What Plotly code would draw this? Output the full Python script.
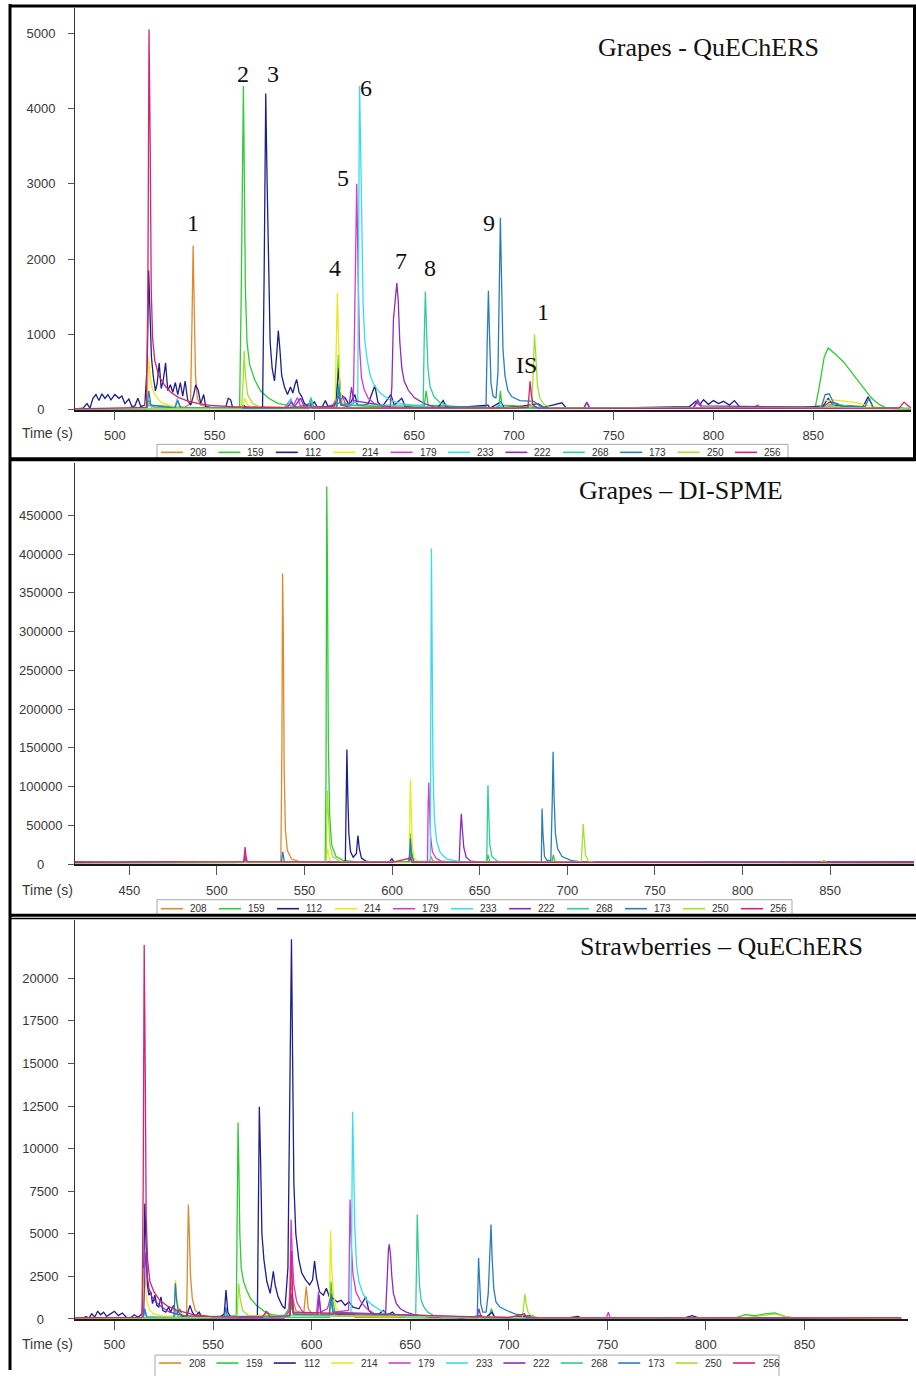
import plotly.graph_objects as go

# ---------------------------------------------------------------------------
# Selected-ion chromatograms (m/z traces), intensity vs retention time (s)
# ---------------------------------------------------------------------------
ions = ["208", "159", "112", "214", "179", "233", "222", "268", "173", "250", "256"]
ion_colors = ["#DC8A2C", "#2ECB35", "#1E1E8C", "#E9E91C", "#D23BD2", "#3ADBEA",
              "#8A2DBA", "#30CC96", "#2A7DBA", "#A5DF2C", "#D2246F"]

# ---- Grapes - QuEChERS : (time s, counts) ---------------------------------
gq_208 = [(480, 10), (515, 15), (517.5, 60), (520, 30), (535, 30), (537.9, 80), (538.6, 1100),
          (539.2, 2180), (539.8, 1300), (540.4, 450), (541.3, 150), (543, 60), (548, 30),
          (565, 40), (590, 30), (598, 60), (600, 20), (640, 20), (700, 25), (708, 60), (710, 20),
          (760, 15), (858, 40), (870, 20), (899, 10)]
gq_159 = [(480, 10), (515, 15), (517, 120), (518, 60), (540, 20), (562.5, 30), (563.3, 1500),
          (564, 3800), (564.4, 4300), (564.9, 3000), (565.4, 1600), (566.2, 900), (567.5, 600),
          (570, 400), (573, 250), (577, 150), (582, 80), (590, 40), (597, 50), (598.3, 160),
          (599.5, 40), (610, 40), (611.2, 200), (612, 730), (612.8, 250), (614, 60), (640, 30),
          (655, 40), (656, 250), (657, 60), (690, 20), (692.5, 40), (693.2, 250), (694, 60),
          (720, 20), (780, 15), (840, 20), (851, 30), (853, 300), (855.5, 700), (857.5, 820),
          (859, 790), (861, 740), (863, 690), (865, 640), (867, 570), (869, 500), (871, 430),
          (873, 360), (875, 290), (877, 220), (879, 160), (881, 110), (883, 70), (886, 30),
          (899, 15)]
gq_112 = [(480, 10), (484, 20), (486, 80), (487.5, 20), (489, 150), (490.5, 200), (492, 120),
          (493.5, 210), (495, 150), (496.5, 200), (498, 130), (500, 200), (502, 150), (503.5, 180),
          (505, 80), (507, 140), (508.5, 40), (510, 50), (511.5, 150), (513, 40), (515, 60),
          (516.2, 600), (516.9, 1850), (517.6, 1300), (518.3, 700), (519.2, 450), (520.3, 250),
          (521.2, 350), (522.2, 620), (523.2, 280), (524.3, 400), (525.4, 620), (526.5, 250),
          (527.8, 330), (529, 230), (530.3, 360), (531.5, 200), (532.8, 360), (534, 180),
          (535.2, 380), (536.5, 120), (538, 60), (539.5, 200), (540.5, 330), (541.8, 250),
          (543, 80), (544.5, 200), (545.5, 40), (550, 20), (555.5, 30), (556.8, 150), (558, 130),
          (559, 30), (563, 20), (564.5, 60), (566, 20), (574, 30), (574.8, 1800), (575.6, 4200),
          (576.3, 3000), (577, 1700), (577.8, 900), (578.8, 550), (580, 380), (581, 700),
          (581.9, 1050), (582.7, 800), (583.6, 450), (585, 300), (586.5, 200), (588, 300),
          (589.2, 220), (590.2, 330), (591.1, 400), (592.3, 230), (593.5, 180), (595, 80),
          (597, 40), (600, 100), (601.5, 30), (604, 40), (605.5, 120), (607, 30), (609.5, 60),
          (611, 150), (612.2, 550), (613, 200), (615.5, 150), (617.5, 60), (620.3, 200),
          (621.5, 60), (625, 60), (627, 80), (630.3, 320), (631.8, 100), (634, 40), (638.3, 200),
          (640, 60), (643.8, 150), (645.5, 40), (652, 20), (662, 30), (664.5, 120), (666, 40),
          (672, 30), (687, 60), (688, 20), (693.3, 100), (695, 30), (703, 40), (712, 80),
          (715, 30), (724, 90), (726, 30), (760, 25), (788, 40), (791, 110), (793, 60),
          (795, 130), (797.5, 70), (800, 120), (802.5, 80), (805, 110), (808, 60), (810.5, 120),
          (813, 40), (830, 30), (845, 30), (855, 50), (857.5, 150), (860, 60), (875, 40),
          (877.5, 170), (880, 30), (899, 10)]
gq_214 = [(480, 5), (515, 10), (516.3, 200), (516.9, 700), (517.6, 450), (518.5, 300), (520, 200),
          (523, 100), (528, 50), (535, 20), (564, 20), (565, 150), (566.5, 60), (570, 20),
          (610.3, 30), (610.9, 700), (611.5, 1550), (612.1, 900), (612.8, 300), (614, 100),
          (617, 30), (650, 15), (853, 20), (856, 120), (860, 130), (866, 110), (872, 90),
          (878, 50), (885, 20), (899, 10)]
gq_179 = [(480, 10), (585, 15), (587.8, 130), (589.3, 50), (591.5, 160), (593, 50), (605, 30),
          (612.5, 90), (614.3, 170), (615.8, 50), (619.5, 80), (620.4, 1400), (621.2, 3000),
          (621.9, 1800), (622.6, 850), (623.6, 420), (625, 260), (627, 150), (630, 80), (635, 40),
          (660, 15), (735, 20), (736.5, 90), (738, 20), (790, 20), (792, 100), (794, 30),
          (820, 20), (822, 60), (824, 20), (899, 10)]
gq_233 = [(480, 5), (516, 10), (517.3, 100), (518.5, 20), (530, 20), (531.3, 150), (532.5, 30),
          (586, 20), (588.3, 150), (589.5, 30), (597, 20), (598.3, 150), (599.5, 30), (611, 30),
          (612.2, 280), (613.3, 60), (621.7, 100), (622.2, 2500), (622.6, 4300), (623.1, 3600),
          (623.7, 2400), (624.4, 1400), (625.3, 900), (626.5, 650), (628, 450), (630, 320),
          (633, 220), (637, 140), (642, 90), (650, 50), (660, 25), (692, 20), (693.2, 100),
          (694.5, 20), (707, 20), (708.2, 60), (709.5, 10), (856, 20), (858, 70), (862, 20),
          (899, 10)]
gq_222 = [(480, 10), (586, 20), (588.5, 100), (590, 40), (593, 150), (594.5, 60), (598, 80),
          (600, 30), (610, 50), (612, 180), (613.5, 60), (617.5, 80), (618.6, 300), (619.6, 120),
          (638, 40), (638.8, 300), (639.6, 1200), (640.5, 1520), (641.3, 1680), (642, 1450),
          (642.8, 900), (643.8, 550), (645, 380), (647, 260), (650, 160), (655, 80), (660, 35),
          (670, 20), (735, 20), (736.5, 100), (738, 20), (790, 30), (792, 130), (794, 50),
          (855, 30), (858, 100), (862, 80), (866, 30), (899, 10)]
gq_268 = [(480, 5), (597, 10), (598.2, 150), (599.3, 20), (611, 20), (612.2, 350), (613.2, 60),
          (654.5, 60), (655, 900), (655.6, 1570), (656.2, 1050), (656.9, 550), (658, 300),
          (660, 170), (663, 90), (668, 40), (690, 15), (692.6, 60), (694, 15), (855, 20),
          (860, 80), (866, 60), (872, 30), (899, 10)]
gq_173 = [(480, 5), (516, 10), (517, 250), (518, 60), (530, 20), (531.5, 120), (533, 20),
          (611.2, 30), (612.2, 300), (613.3, 60), (620, 20), (686, 40), (686.6, 900),
          (687.2, 1580), (687.8, 950), (688.5, 350), (689.5, 180), (691, 150), (692, 500),
          (692.6, 1700), (693.2, 2550), (693.8, 1700), (694.5, 800), (695.5, 450), (697, 250),
          (699, 170), (703, 120), (710, 110), (713, 50), (716, 30), (760, 15), (854, 30),
          (856, 200), (858, 210), (860, 100), (864, 40), (876, 40), (878, 150), (880, 30),
          (899, 10)]
gq_250 = [(480, 5), (563.5, 20), (564.3, 400), (564.8, 780), (565.4, 450), (566.5, 200),
          (569, 80), (573, 30), (690, 10), (708.8, 40), (709.6, 450), (710.3, 1000), (711, 700),
          (711.8, 320), (713, 150), (715, 70), (719, 20), (855, 20), (858, 60), (864, 30),
          (899, 10)]
gq_256 = [(480, 10), (515.8, 30), (516.5, 1500), (517.1, 5050), (517.7, 3500), (518.2, 1600),
          (518.9, 950), (520, 650), (522, 450), (525, 320), (528, 230), (532, 160), (537, 110),
          (542, 80), (548, 55), (560, 35), (580, 25), (620, 20), (700, 20), (707, 30),
          (707.6, 200), (708.1, 380), (708.7, 200), (709.6, 60), (712, 20), (760, 15), (893, 20),
          (895.5, 100), (898, 40), (899, 30)]

# ---- Grapes - DI-SPME ------------------------------------------------------
gs_208 = [(419, 2500), (470, 3000), (500, 2500), (536.5, 3000), (537.1, 150000), (537.5, 375000),
          (537.9, 300000), (538.4, 120000), (539.1, 45000), (540.2, 18000), (542.5, 7000),
          (547, 3500), (560, 2500), (621.5, 3000), (622.3, 10000), (623.5, 3000), (700, 2500),
          (898, 2500)]
gs_159 = [(419, 2000), (561.8, 2500), (562.3, 120000), (562.7, 487000), (563.1, 380000),
          (563.6, 160000), (564.3, 65000), (565.5, 25000), (568, 10000), (572, 5000), (580, 3000),
          (609.8, 3000), (610.4, 40000), (611, 18000), (612.5, 4000), (654, 3000), (654.7, 12000),
          (655.8, 3000), (691.3, 3000), (692, 12000), (693, 3000), (898, 2000)]
gs_112 = [(419, 2500), (515.5, 2500), (516.1, 8000), (516.8, 2500), (573.3, 3000), (573.8, 90000),
          (574.2, 148000), (574.7, 90000), (575.3, 40000), (576.3, 16000), (577.8, 9000),
          (579.6, 14000), (580.5, 37000), (581.3, 20000), (582.5, 8000), (585, 4000), (590, 2500),
          (598.5, 3000), (599.9, 7000), (601.3, 2500), (898, 2500)]
gs_214 = [(419, 2000), (562.2, 2500), (563.2, 20000), (564.5, 5000), (566, 2500), (609.8, 3000),
          (610.2, 80000), (610.5, 110000), (610.9, 70000), (611.5, 25000), (612.5, 8000),
          (615, 3000), (898, 2000)]
gs_179 = [(419, 2500), (515.3, 2500), (516, 12000), (516.7, 2500), (609.8, 2500), (610.5, 10000),
          (611.3, 2500), (620.2, 3000), (620.6, 80000), (620.95, 105000), (621.4, 70000),
          (622, 35000), (623, 16000), (625, 8000), (628, 4000), (635, 2500), (898, 2500)]
gs_233 = [(419, 2000), (621.8, 3000), (622.1, 200000), (622.45, 407000), (622.85, 280000),
          (623.3, 130000), (624.1, 60000), (625.4, 30000), (627.5, 15000), (631, 7000),
          (637, 4000), (645, 2500), (898, 2000)]
gs_222 = [(419, 3000), (440, 2500), (470, 3500), (500, 2500), (609.5, 3000), (610.4, 15000),
          (611.2, 3000), (638.3, 3000), (638.9, 40000), (639.5, 65000), (640.1, 45000),
          (640.9, 22000), (642.3, 9000), (645, 4000), (650, 3000), (700, 3000), (750, 3500),
          (800, 3000), (898, 3000)]
gs_268 = [(419, 2000), (609.8, 2500), (610.5, 20000), (611.3, 2500), (654, 3000), (654.35, 60000),
          (654.7, 102000), (655.1, 70000), (655.8, 25000), (657, 10000), (660, 4000), (665, 2500),
          (898, 2000)]
gs_173 = [(419, 2000), (536.8, 2500), (537.6, 16000), (538.5, 2500), (609.8, 2500), (610.4, 33000),
          (611, 12000), (612.5, 3000), (685.2, 3000), (685.6, 72000), (686.1, 40000), (687, 10000),
          (688.5, 5000), (690.6, 5000), (691.4, 80000), (691.9, 145000), (692.4, 90000),
          (693.2, 40000), (694.5, 20000), (697, 10000), (702, 5000), (708, 3000), (898, 2000)]
gs_250 = [(419, 2000), (562.4, 2500), (563, 95000), (563.6, 60000), (564.5, 25000), (566, 10000),
          (570, 4000), (575, 2500), (708, 3000), (708.6, 30000), (709.1, 52000), (709.6, 35000),
          (710.4, 12000), (712, 4000), (716, 2500), (845, 2500), (846.5, 5000), (848, 2500),
          (898, 2000)]
gs_256 = [(419, 2500), (515.3, 3000), (515.8, 15000), (516.1, 22000), (516.5, 12000),
          (517.3, 3000), (600, 2500), (610.5, 8000), (611.5, 2500), (898, 2500)]

# ---- Strawberries - QuEChERS ----------------------------------------------
sq_208 = [(480, 50), (530, 80), (536.6, 200), (537.1, 4000), (537.5, 6720), (538, 5000),
          (538.6, 2500), (539.5, 1200), (541, 500), (544, 200), (550, 100), (575, 100),
          (577.5, 400), (580, 150), (588, 200), (589.3, 2200), (590.3, 1300), (592, 500),
          (596, 300), (597.3, 1900), (598.3, 600), (601, 200), (619, 150), (620.5, 400),
          (622, 100), (700, 60), (708, 150), (710, 50), (899, 50)]
sq_159 = [(480, 30), (530, 50), (531.2, 500), (532.5, 80), (561.8, 200), (562.3, 6000),
          (562.7, 11530), (563.1, 9000), (563.6, 5000), (564.3, 3000), (565.5, 2200), (567, 1700),
          (569, 1200), (572, 800), (576, 450), (580, 250), (586, 150), (589.5, 800), (591, 200),
          (609, 200), (609.8, 2200), (610.6, 1200), (612, 300), (615, 150), (650, 100), (690, 80),
          (691.2, 600), (692.5, 100), (700, 60), (815, 60), (820, 250), (825, 200), (830, 300),
          (835, 350), (840, 150), (845, 60), (899, 40)]
sq_112 = [(480, 20), (484, 30), (485.5, 150), (487, 50), (488.5, 300), (490, 120), (491.5, 450),
          (493, 250), (494.5, 400), (496, 150), (498, 300), (500, 450), (502, 200), (504, 350),
          (506, 100), (508, 50), (510, 250), (512, 100), (514, 300), (514.8, 2000), (515.4, 6780),
          (516, 4000), (516.7, 2000), (517.5, 1400), (518.5, 1600), (519.3, 900), (520.5, 1400),
          (521.5, 800), (522.5, 700), (523.6, 1300), (524.5, 500), (526, 400), (527.5, 700),
          (528.5, 400), (530, 800), (531.5, 300), (533, 600), (534.5, 150), (536.5, 100),
          (538.3, 800), (539.5, 400), (541, 150), (543, 400), (544.5, 60), (553, 50), (555.7, 300),
          (556.6, 1700), (557.5, 400), (559, 100), (572.5, 100), (573.1, 6000), (573.5, 12460),
          (574.1, 9500), (574.8, 5000), (575.8, 3500), (577.3, 2200), (579, 1500), (580.6, 2800),
          (581.5, 2000), (583, 1300), (585, 800), (586.5, 600), (588, 3000), (589, 12000),
          (589.8, 22290), (590.4, 15000), (591, 8000), (592, 5000), (593.5, 3500), (595, 2700),
          (597, 2300), (599, 2000), (600.5, 2300), (601.5, 3400), (602.5, 2400), (604, 1600),
          (606, 1400), (607.5, 1800), (609, 1300), (611, 1200), (613, 1000), (615, 1100),
          (617, 800), (619, 1000), (621, 700), (624, 600), (626, 1000), (627.5, 1300), (629, 500),
          (631, 300), (633, 200), (636.5, 500), (638, 200), (641, 400), (643, 150), (647, 100),
          (660, 80), (672, 100), (676, 50), (686, 200), (688, 60), (691.5, 400), (693, 100),
          (700, 100), (712, 200), (714, 60), (730, 60), (735, 150), (737, 50), (790, 100),
          (793, 200), (796, 80), (899, 60)]
sq_214 = [(480, 20), (514.5, 100), (515.1, 3000), (515.7, 2000), (516.5, 1000), (518, 500),
          (520, 300), (525, 150), (530.3, 200), (531, 2300), (531.7, 1200), (533, 400), (536, 150),
          (560, 80), (588, 200), (589.8, 1000), (591, 400), (609, 300), (609.6, 5200),
          (610.2, 3000), (611, 1500), (612.5, 600), (615, 300), (620, 150), (700, 60), (899, 40)]
sq_179 = [(480, 30), (586, 40), (588.8, 500), (589.6, 5840), (590.3, 3500), (591, 2000),
          (592.5, 1000), (595, 500), (597, 300), (602.5, 300), (603.5, 1600), (604.5, 400),
          (608, 600), (609.5, 1200), (611, 400), (618.8, 500), (619.5, 7010), (620.2, 4200),
          (621, 2600), (622.5, 1600), (625, 1000), (628, 600), (632, 300), (640, 150), (700, 80),
          (749.5, 50), (750.5, 400), (751.5, 60), (899, 40)]
sq_233 = [(480, 20), (514.5, 50), (515.3, 600), (516.5, 150), (530.5, 50), (531.2, 500),
          (532.5, 80), (620, 300), (620.4, 6000), (620.8, 12170), (621.3, 9500), (621.9, 5500),
          (622.8, 3200), (624, 2200), (626, 1500), (628, 1100), (631, 800), (635, 500),
          (640, 250), (648, 100), (899, 30)]
sq_222 = [(480, 40), (514.8, 100), (515.5, 3000), (516, 3900), (516.7, 2500), (517.5, 1800),
          (519, 1300), (521, 1000), (524, 700), (528, 400), (535, 200), (560, 100), (589, 200),
          (590, 1500), (591, 300), (603, 200), (603.8, 1400), (604.8, 300), (637.5, 200),
          (638.3, 2500), (639, 4100), (639.4, 4380), (640, 3800), (640.7, 2500), (641.5, 1500),
          (643, 900), (645, 600), (648, 400), (652, 250), (660, 100), (684, 80), (684.8, 600),
          (686, 100), (700, 60), (899, 40)]
sq_268 = [(480, 20), (609, 100), (609.8, 1500), (610.6, 600), (612, 150), (652.8, 200),
          (653.2, 3000), (653.6, 6130), (654.1, 4000), (654.7, 2000), (655.6, 1100), (657, 700),
          (659, 400), (662, 200), (668, 80), (899, 20)]
sq_173 = [(480, 20), (514.6, 100), (515.3, 600), (516.3, 100), (530.2, 100), (530.9, 2100),
          (531.6, 1000), (532.5, 400), (534, 200), (538, 100), (555.8, 100), (556.5, 700),
          (557.3, 100), (589, 200), (589.9, 1200), (590.8, 300), (609, 200), (609.9, 1500),
          (610.8, 400), (684, 100), (684.4, 2000), (684.7, 3600), (685.1, 2500), (685.8, 900),
          (686.8, 400), (688.5, 400), (689.6, 1500), (690.3, 3500), (691, 5550), (691.6, 3500),
          (692.4, 1800), (693.5, 1000), (695.5, 700), (699, 500), (703, 300), (708, 200),
          (712, 100), (899, 20)]
sq_250 = [(480, 20), (562.2, 100), (563, 2100), (563.8, 1200), (565, 500), (568, 200), (707, 100),
          (707.7, 900), (708.2, 1460), (708.8, 900), (709.8, 400), (711.5, 200), (715, 80),
          (820, 60), (828, 200), (835, 300), (842, 100), (899, 30)]
sq_256 = [(480, 60), (514, 100), (514.6, 8000), (515.1, 21960), (515.6, 15000), (516.1, 6000),
          (516.8, 3500), (518, 2200), (520, 1600), (523, 1100), (527, 750), (532, 500), (540, 250),
          (550, 120), (575, 100), (577, 450), (579, 120), (589, 200), (589.8, 4000), (590.6, 400),
          (700, 80), (708, 300), (709, 80), (899, 60)]

# Peak labels in the first chromatogram: (text, time, counts)
peak_labels = [("1", 539.1, 2480), ("2", 564.2, 4460), ("3", 579.2, 4460), ("6", 625.8, 4270),
               ("5", 614.3, 3080), ("4", 610.3, 1880), ("7", 643.6, 1980), ("8", 657.9, 1880),
               ("9", 687.5, 2480), ("1", 714.5, 1300), ("IS", 706.2, 590)]

panel_titles = ["Grapes - QuEChERS", "Grapes \u2013 DI-SPME", "Strawberries \u2013 QuEChERS"]
panel_traces = [
    [gq_208, gq_159, gq_112, gq_214, gq_179, gq_233, gq_222, gq_268, gq_173, gq_250, gq_256],
    [gs_208, gs_159, gs_112, gs_214, gs_179, gs_233, gs_222, gs_268, gs_173, gs_250, gs_256],
    [sq_208, sq_159, sq_112, sq_214, sq_179, sq_233, sq_222, sq_268, sq_173, sq_250, sq_256],
]
y_tick_values = [list(range(0, 5001, 1000)), list(range(0, 450001, 50000)),
                 list(range(0, 20001, 2500))]
x_tick_values = [list(range(500, 851, 50)), list(range(450, 851, 50)), list(range(500, 851, 50))]

# ---------------------------------------------------------------------------
# Page geometry (pixels on a 916 x 1376 page)
# ---------------------------------------------------------------------------
W, H = 916, 1376


def fx(px):
    return px / W


def fy(py):
    return 1 - py / H


layout_px = [
    dict(x=(75, 911), xr=(480, 899), y=(412, 8), yr=(0, 5337), ystand=10, zero_pad=3,
         title=(708, 48), tlabel=(47, 436),
         legbox=(157, 447, 788, 461), legline=(161, 455), legtext=188, pitch=57.4),
    dict(x=(75, 914), xr=(419, 897.9), y=(869.3, 466), yr=(0, 517000), ystand=3, zero_pad=5,
         title=(681, 493), tlabel=(47, 895),
         legbox=(157, 905, 792, 921), legline=(161, 914), legtext=188, pitch=58.0),
    dict(x=(75, 908), xr=(480, 902.5), y=(1326.7, 925), yr=(0, 23443), ystand=7, zero_pad=4,
         title=(721, 952), tlabel=(47, 1352),
         legbox=(155, 1363, 779, 1390), legline=(159, 1371), legtext=186.7, pitch=57.4),
]

TICK_FONT = dict(family="Liberation Sans, Arial", size=13, color="#383838")
SERIF = "Liberation Serif, Times New Roman, serif"

fig = go.Figure()
shapes = []
annotations = []

for p, geo in enumerate(layout_px):
    sfx = "" if p == 0 else str(p + 1)
    xa, ya = "x" + sfx, "y" + sfx

    for ion, color, pts in zip(ions, ion_colors, panel_traces[p]):
        t = [a for a, _ in pts]
        v = [b for _, b in pts]
        fig.add_trace(go.Scatter(x=t, y=v, mode="lines", name=ion, xaxis=xa, yaxis=ya,
                                 line=dict(color=color, width=1.3), showlegend=False,
                                 hoverinfo="skip"))

    yt = y_tick_values[p]
    ytext = [("0" + "\u00a0" * geo["zero_pad"]) if v == 0 else str(v) for v in yt]
    fig.layout["xaxis" + sfx] = dict(
        domain=[fx(geo["x"][0]), fx(geo["x"][1])], range=list(geo["xr"]), anchor=ya,
        showgrid=False, zeroline=False, showline=True, linecolor="#1a1a1a", linewidth=1.5,
        ticks="outside", ticklen=9, tickwidth=1, tickcolor="#555555",
        tickvals=x_tick_values[p], ticktext=[str(v) for v in x_tick_values[p]],
        tickfont=TICK_FONT, ticklabelstandoff=4, fixedrange=True)
    fig.layout["yaxis" + sfx] = dict(
        domain=[fy(geo["y"][0]), fy(geo["y"][1])], range=list(geo["yr"]), anchor=xa,
        showgrid=False, zeroline=False, showline=True, linecolor="#333333", linewidth=1,
        ticks="outside", ticklen=6, tickwidth=1, tickcolor="#555555",
        tickvals=yt, ticktext=ytext, tickfont=TICK_FONT, ticklabelstandoff=geo["ystand"],
        fixedrange=True)

    # panel title and time label
    annotations.append(dict(text=panel_titles[p], x=fx(geo["title"][0]), y=fy(geo["title"][1]),
                            xref="paper", yref="paper", showarrow=False,
                            xanchor="center", yanchor="middle",
                            font=dict(family=SERIF, size=26, color="#111111")))
    annotations.append(dict(text="Time (s)", x=fx(geo["tlabel"][0]), y=fy(geo["tlabel"][1]),
                            xref="paper", yref="paper", showarrow=False,
                            xanchor="center", yanchor="middle",
                            font=dict(family=TICK_FONT["family"], size=14, color="#383838")))

    # ion legend strip under each chromatogram
    bx0, by0, bx1, by1 = geo["legbox"]
    shapes.append(dict(type="rect", xref="paper", yref="paper",
                       x0=fx(bx0), x1=fx(bx1), y0=fy(by1), y1=fy(by0),
                       line=dict(color="#a8a8a8", width=1), fillcolor="white", layer="above"))
    lx, ly = geo["legline"]
    for i, (ion, color) in enumerate(zip(ions, ion_colors)):
        x0 = lx + i * geo["pitch"]
        shapes.append(dict(type="line", xref="paper", yref="paper",
                           x0=fx(x0), x1=fx(x0 + 22), y0=fy(ly), y1=fy(ly),
                           line=dict(color=color, width=1.6), layer="above"))
        annotations.append(dict(text=ion, x=fx(geo["legtext"] + i * geo["pitch"]), y=fy(ly),
                                xref="paper", yref="paper", showarrow=False,
                                xanchor="left", yanchor="middle",
                                font=dict(family=TICK_FONT["family"], size=10, color="#333333")))

# peak numbering on the first chromatogram
for text, t, v in peak_labels:
    annotations.append(dict(text=text, x=t, y=v, xref="x", yref="y", showarrow=False,
                            xanchor="center", yanchor="middle",
                            font=dict(family=SERIF, size=24, color="#111111")))

# page frame and panel separators
frame = [
    dict(x0=10, y0=4, x1=10, y1=H + 2, w=3),      # left edge
    dict(x0=9, y0=6, x1=W, y1=6, w=3),            # top edge
    dict(x0=914.5, y0=5, x1=914.5, y1=462, w=3),  # right edge of first panel
    dict(x0=9, y0=462, x1=W, y1=462, w=4),        # separator 1
    dict(x0=9, y0=920.5, x1=W, y1=920.5, w=3),    # separator 2
    dict(x0=9, y0=923.8, x1=W, y1=923.8, w=1.5),
]
for f in frame:
    shapes.append(dict(type="line", xref="paper", yref="paper",
                       x0=fx(f["x0"]), x1=fx(f["x1"]), y0=fy(f["y0"]), y1=fy(f["y1"]),
                       line=dict(color="black", width=f["w"]), layer="above"))

fig.update_layout(width=W, height=H, margin=dict(l=0, r=0, t=0, b=0),
                  paper_bgcolor="white", plot_bgcolor="white",
                  shapes=shapes, annotations=annotations, showlegend=False)

fig.write_html("out.html")
